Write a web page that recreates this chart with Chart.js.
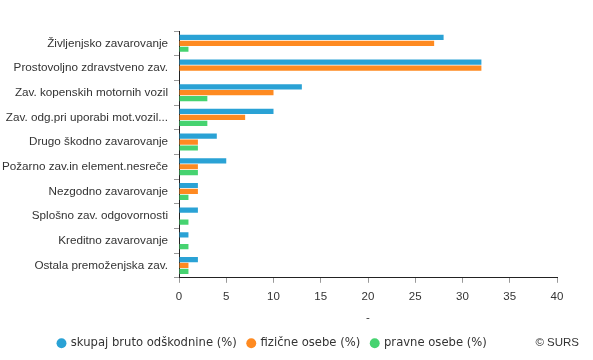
<!DOCTYPE html>
<html><head><meta charset="utf-8">
<script src="https://cdn.jsdelivr.net/npm/chart.js@4/dist/chart.umd.min.js"></script>
<style>html,body{margin:0;padding:0;background:#fff}#wrap{width:593px;height:360px;position:relative}</style>
</head><body><div id="wrap"><canvas id="c" width="593" height="360"></canvas></div>
<script>
const categories = ["Življenjsko zavarovanje","Prostovoljno zdravstveno zav.","Zav. kopenskih motornih vozil","Zav. odg.pri uporabi mot.vozil...","Drugo škodno zavarovanje","Požarno zav.in element.nesreče","Nezgodno zavarovanje","Splošno zav. odgovornosti","Kreditno zavarovanje","Ostala premoženjska zav."];
const seriesNames = ["skupaj bruto odškodnine (%)","fizične osebe (%)","pravne osebe (%)"];
const skupaj = [28,32,13,10,4,5,2,2,1,2];
const fizicne = [27,32,10,7,2,2,2,0,0,1];
const pravne = [1,0,3,3,2,2,1,1,1,1];
const xTicks = [0,5,10,15,20,25,30,35,40];
const colors = ["#2aa2d5","#fe8a21","#46d370"];

const credit = {id:'credit',
  afterLayout(ch){ if(ch.legend){ ch.legend.left = 47; } },
  afterDraw(ch){const c=ch.ctx;c.save();c.font='11.5px "Liberation Sans", Arial';c.fillStyle='#333';c.textAlign='right';c.textBaseline='middle';c.fillText('© SURS',579,343);c.restore();}};

new Chart(document.getElementById('c'),{
  type:'bar',
  data:{labels:categories,datasets:[
    {label:seriesNames[0],data:skupaj,backgroundColor:colors[0]},
    {label:seriesNames[1],data:fizicne,backgroundColor:colors[1]},
    {label:seriesNames[2],data:pravne,backgroundColor:colors[2]}
  ]},
  options:{
    indexAxis:'y',responsive:false,animation:false,
    categoryPercentage:0.72,barPercentage:0.88,
    layout:{padding:{left:0,right:36,top:31,bottom:1}},
    plugins:{
      tooltip:{enabled:false},
      legend:{position:'bottom',align:'start',labels:{usePointStyle:true,pointStyle:'circle',boxWidth:7,boxHeight:7,padding:11,color:'#333',font:{family:'"DejaVu Sans"',size:11.6}}}
    },
    scales:{
      x:{min:0,max:40,afterBuildTicks(s){s.ticks=xTicks.map(v=>({value:v}));},
        grid:{drawOnChartArea:false,color:'#999',tickLength:5},border:{color:'#222'},
        ticks:{color:'#333',font:{family:'"Liberation Sans"',size:11.5},padding:7,maxRotation:0},
        title:{display:true,text:'-',color:'#333',font:{family:'"Liberation Sans"',size:11.5},padding:{top:0,bottom:2}}},
      y:{afterFit(s){s.width=179;},
        grid:{drawOnChartArea:false,color:'#999',tickLength:5,offset:true},border:{color:'#222'},
        ticks:{color:'#333',font:{family:'"Liberation Sans"',size:11.7},padding:6,autoSkip:false}}
    }
  },
  plugins:[credit]
});
</script></body></html>
